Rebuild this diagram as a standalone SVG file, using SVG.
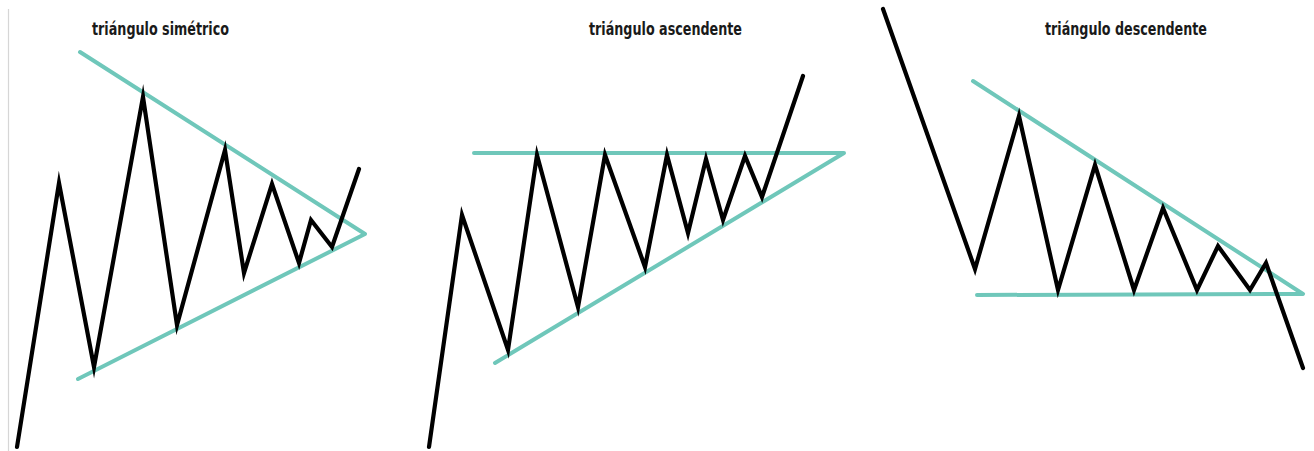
<svg xmlns="http://www.w3.org/2000/svg" width="1314" height="451" viewBox="0 0 1314 451">
<style>
.bg{fill:#ffffff}
.edge{stroke:#d6d6d6;stroke-width:1.2;fill:none}
.trend{stroke:#6fc7ba;stroke-width:4;fill:none;stroke-linecap:round;stroke-linejoin:round}
.price{stroke:#000000;stroke-width:4.2;fill:none;stroke-linecap:round;stroke-linejoin:miter;stroke-miterlimit:10}
.title{font-family:"DejaVu Sans Condensed","DejaVu Sans","Liberation Sans",sans-serif;font-weight:bold;font-size:17px;fill:#1a1a1a}
</style>
<rect class="bg" x="0" y="0" width="1314" height="451"/>
<line class="edge" x1="8.5" y1="9" x2="8.5" y2="451"/>
<g id="symmetric">
  <text class="title" x="92" y="35" textLength="137" lengthAdjust="spacingAndGlyphs">triángulo simétrico</text>
  <g class="connectors">
    <polyline class="trend" points="80,52 365,234 78,379"/>
  </g>
  <polyline class="price" points="17,447 59,183 94,367 143,97 177,325 225,150 244,273 272,184 299,263 311,220 332,247 359,169"/>
</g>
<g id="ascending">
  <text class="title" x="589" y="35" textLength="153" lengthAdjust="spacingAndGlyphs">triángulo ascendente</text>
  <g class="connectors">
    <polyline class="trend" points="474,153 844,153 495,363"/>
  </g>
  <polyline class="price" points="429,447 462,215 508,350 537,155 578,307 605,155 645,267 667,155 688,233 706,159 723,220 745,156 762,197 803,76"/>
</g>
<g id="descending">
  <text class="title" x="1045" y="35" textLength="162" lengthAdjust="spacingAndGlyphs">triángulo descendente</text>
  <g class="connectors">
    <polyline class="trend" points="973,81 1303,294 977,295"/>
  </g>
  <polyline class="price" points="883,9 975,269 1019,116 1058,290 1095,165 1134,290 1163,208 1197,290 1218,246 1250,290 1266,263 1303,368"/>
</g>
</svg>
